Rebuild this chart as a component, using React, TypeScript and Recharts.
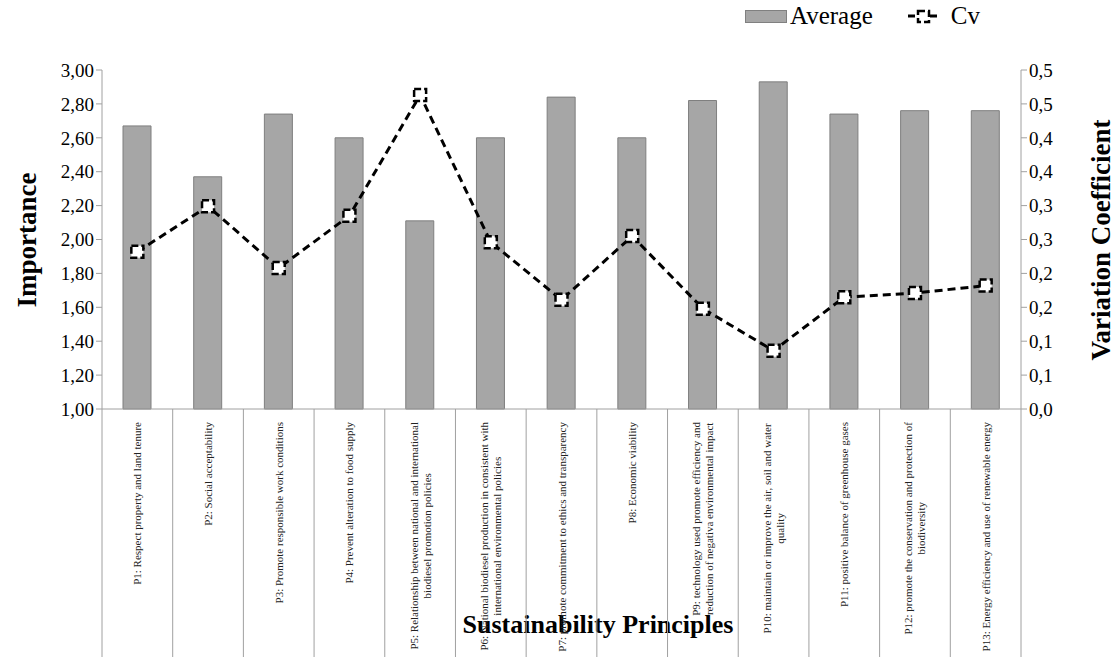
import React from "react";
import { Bar, ComposedChart, Label, Line, XAxis, YAxis } from "recharts";

// principle labels, "|" splits a label into two lines
const principles = [
  "P1: Respect property and land tenure",
  "P2: Social acceptability",
  "P3: Promote responsible work conditions",
  "P4: Prevent alteration to food supply",
  "P5: Relationship between national and international|biodiesel promotion policies",
  "P6: National biodiesel production in consistent with|international environmental policies",
  "P7: promote commitment to ethics and transparency",
  "P8: Economic viability",
  "P9: technology used promote efficiency and|reduction of negativa environmental impact",
  "P10:  maintain or improve the air, soil and water|quality",
  "P11: positive balance of greenhouse gases",
  "P12: promote the conservation and protection of|biodiversity",
  "P13: Energy efficiency and use of renewable energy",
];

const average = [2.67, 2.37, 2.74, 2.6, 2.11, 2.6, 2.84, 2.6, 2.82, 2.93, 2.74, 2.76, 2.76];
const cv = [0.232, 0.299, 0.208, 0.285, 0.463, 0.246, 0.161, 0.255, 0.148, 0.086, 0.165, 0.171, 0.182];

const importanceTicks = [1, 1.2, 1.4, 1.6, 1.8, 2, 2.2, 2.4, 2.6, 2.8, 3];
const cvTicks = [0, 0.05, 0.1, 0.15, 0.2, 0.25, 0.3, 0.35, 0.4, 0.45, 0.5];

const data = principles.map((name, i) => ({ name, average: average[i], cv: cv[i] }));

const SERIF = '"Liberation Serif", "Times New Roman", serif';
const W = 1118;
const H = 657;
const LEFT_W = 102;
const RIGHT_W = 97;
const TOP = 70;
const X_H = 248;
const BAND = (W - LEFT_W - RIGHT_W) / principles.length;
const AXIS_GREY = "#a0a0a0";
const TICK_FONT = 11;

let ctx: CanvasRenderingContext2D | null = null;
const measure = (s: string) => {
  if (!ctx) ctx = document.createElement("canvas").getContext("2d");
  if (!ctx) return s.length * 4.7;
  ctx.font = `${TICK_FONT}px ${SERIF}`;
  return ctx.measureText(s).width;
};

const PrincipleTick = (props: any) => {
  const { x, y, payload, index } = props;
  const lines = String(payload.value).split("|");
  const maxLen = Math.max(...lines.map(measure));
  const top = y + 5;
  return (
    <g>
      <line x1={x - BAND / 2} x2={x - BAND / 2} y1={y - 8} y2={H} stroke={AXIS_GREY} />
      {index === principles.length - 1 && (
        <line x1={x + BAND / 2} x2={x + BAND / 2} y1={y - 8} y2={H} stroke={AXIS_GREY} />
      )}
      <g transform={`translate(${x},${top}) rotate(-90)`}>
        {lines.map((l, i) => (
          <text
            key={i}
            x={-maxLen / 2}
            y={(i - (lines.length - 1) / 2) * 13}
            textAnchor="middle"
            dominantBaseline="central"
            fontFamily={SERIF}
            fontSize={TICK_FONT}
            fill="#222"
          >
            {l}
          </text>
        ))}
      </g>
    </g>
  );
};

const CvMarker = (props: any) => {
  const { cx, cy, index } = props;
  return (
    <rect
      key={`m-${index}`}
      x={cx - 6}
      y={cy - 6}
      width={12}
      height={12}
      fill="#fff"
      stroke="#000"
      strokeWidth={2.5}
      strokeDasharray="7 3"
    />
  );
};

const fmtLeft = (v: number) => v.toFixed(2).replace(".", ",");
const fmtRight = (v: number) => (Math.round(v * 10 + 1e-9) / 10).toFixed(1).replace(".", ",");

const axisTick = { fontFamily: SERIF, fontSize: 19, fill: "#000", style: { fontFamily: SERIF } };

const Legend = () => (
  <div
    style={{
      position: "absolute",
      top: 2,
      left: 745,
      display: "flex",
      alignItems: "center",
      fontFamily: SERIF,
      fontSize: 25,
      color: "#000",
    }}
  >
    <span style={{ width: 40, height: 11, background: "#a6a6a6", border: "1px solid #808080", marginRight: 3 }} />
    <span>Average</span>
    <svg width={34} height={20} style={{ marginLeft: 34, marginRight: 10 }}>
      <line x1={1} x2={33} y1={10} y2={10} stroke="#000" strokeWidth={3} strokeDasharray="7 4" />
      <rect x={11} y={5} width={11} height={11} fill="#fff" stroke="#000" strokeWidth={2.5} strokeDasharray="7 3" />
    </svg>
    <span>Cv</span>
  </div>
);

export default function App() {
  return (
    <div style={{ position: "absolute", left: 0, top: 0, width: W, height: H, background: "#fff" }}>
      <ComposedChart width={W} height={H} data={data} margin={{ top: TOP, right: 0, bottom: 0, left: 0 }}>
        <XAxis
          dataKey="name"
          height={X_H}
          interval={0}
          tick={<PrincipleTick />}
          tickLine={false}
          axisLine={{ stroke: AXIS_GREY }}
        >
          <Label
            content={() => (
              <text x={598} y={633} textAnchor="middle" fontFamily={SERIF} fontWeight="bold" fontSize={26} fill="#000">
                Sustainability Principles
              </text>
            )}
          />
        </XAxis>
        <YAxis
          yAxisId="left"
          width={LEFT_W}
          domain={[1, 3]}
          ticks={importanceTicks}
          tickFormatter={fmtLeft}
          tick={axisTick}
          tickSize={6}
          tickLine={{ stroke: AXIS_GREY }}
          axisLine={{ stroke: AXIS_GREY }}
        >
          <Label
            content={() => (
              <text
                x={0}
                y={0}
                transform="translate(36,240) rotate(-90)"
                textAnchor="middle"
                fontFamily={SERIF}
                fontWeight="bold"
                fontSize={27}
                fill="#000"
              >
                Importance
              </text>
            )}
          />
        </YAxis>
        <YAxis
          yAxisId="right"
          orientation="right"
          width={RIGHT_W}
          domain={[0, 0.5]}
          ticks={cvTicks}
          tickFormatter={fmtRight}
          tick={axisTick}
          tickSize={6}
          tickLine={{ stroke: AXIS_GREY }}
          axisLine={{ stroke: AXIS_GREY }}
        >
          <Label
            content={() => (
              <text
                x={0}
                y={0}
                transform="translate(1110,240) rotate(-90)"
                textAnchor="middle"
                fontFamily={SERIF}
                fontWeight="bold"
                fontSize={27}
                fill="#000"
              >
                Variation Coefficient
              </text>
            )}
          />
        </YAxis>
        <Bar
          yAxisId="left"
          dataKey="average"
          fill="#a6a6a6"
          stroke="#7f7f7f"
          strokeWidth={1}
          barSize={28}
          isAnimationActive={false}
        />
        <Line
          yAxisId="right"
          dataKey="cv"
          stroke="#000"
          strokeWidth={3}
          strokeDasharray="8 5"
          dot={<CvMarker />}
          activeDot={false}
          isAnimationActive={false}
        />
      </ComposedChart>
      <Legend />
    </div>
  );
}
